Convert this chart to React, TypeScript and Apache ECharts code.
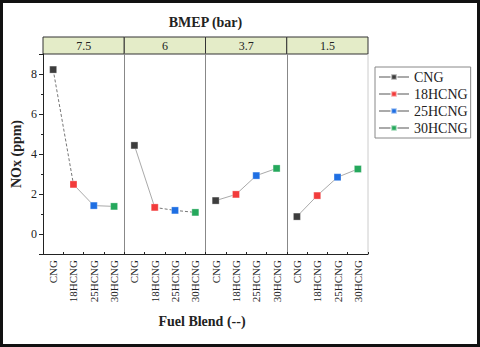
import React, { useEffect, useRef } from "react";
import * as echarts from "echarts";

const categories = ["CNG", "18HCNG", "25HCNG", "30HCNG"];
const bmepLabels = ["7.5", "6", "3.7", "1.5"];
const cng = [8.22, 4.43, 1.67, 0.87];
const h18 = [2.48, 1.33, 1.98, 1.92];
const h25 = [1.42, 1.18, 2.92, 2.84];
const h30 = [1.38, 1.08, 3.28, 3.25];
const fuelSeries = [cng, h18, h25, h30];
const fuelColors = ["#3d3d3d", "#f23b3b", "#1f6fe3", "#25a85c"];
const segDash = [
  ["dashed", "solid", "solid"],
  ["solid", "dashed", "dashed"],
  ["solid", "solid", "solid"],
  ["solid", "solid", "solid"],
];

const FONT = "Liberation Serif, Times New Roman, serif";

export default function App() {
  const ref = useRef<HTMLDivElement>(null);
  useEffect(() => {
    if (!ref.current) return;
    const chart = echarts.init(ref.current, undefined, { renderer: "svg" });
    const L = 43, W = 81.25, T = 54, H = 200;
    const grids: any[] = [];
    const xAxes: any[] = [];
    const minorX: any[] = [];
    const yAxes: any[] = [];
    const series: any[] = [];
    const graphics: any[] = [];
    for (let p = 0; p < 4; p++) {
      grids.push({ left: L + p * W, top: T, width: W, height: H });
      xAxes.push({
        type: "category",
        gridIndex: p,
        data: categories,
        boundaryGap: true,
        axisLine: { onZero: false, lineStyle: { color: "#222", width: 1 } },
        axisTick: { alignWithLabel: true, length: 4, lineStyle: { color: "#222" } },
        axisLabel: { rotate: 90, fontSize: 11, color: "#222", fontFamily: FONT, margin: 6, interval: 0 },
        splitLine: { show: false },
      });
      minorX.push({
        type: "category",
        gridIndex: p,
        position: "bottom",
        data: categories,
        boundaryGap: true,
        axisLine: { show: false, onZero: false },
        axisTick: { show: true, inside: true, length: 2, interval: 0, lineStyle: { color: "#222" } },
        axisLabel: { show: false },
        splitLine: { show: false },
      });
      yAxes.push({
        type: "value",
        gridIndex: p,
        min: -1,
        max: 9,
        splitNumber: 5,
        axisLine: { show: true, lineStyle: { color: p === 0 ? "#222" : "#888", width: 1 } },
        axisTick: { show: p === 0, length: 4, lineStyle: { color: "#222" } },
        minorTick: { show: p === 0, splitNumber: 2, length: 2, lineStyle: { color: "#222" } },
        axisLabel: {
          show: p === 0,
          fontSize: 12,
          color: "#222",
          fontFamily: FONT,
          margin: 6,
          formatter: (v: number) => (v < 0 || v > 8.5 ? "" : String(v)),
        },
        splitLine: { show: false },
        name: p === 0 ? "NOx (ppm)" : "",
        nameLocation: "middle",
        nameGap: 20,
        nameTextStyle: { fontSize: 14, fontWeight: "bold", color: "#222", fontFamily: FONT },
      });
      for (let k = 0; k < 3; k++) {
        series.push({
          type: "line",
          xAxisIndex: p,
          yAxisIndex: p,
          silent: true,
          showSymbol: false,
          symbol: "none",
          data: [
            [k, fuelSeries[k][p]],
            [k + 1, fuelSeries[k + 1][p]],
          ],
          lineStyle: {
            color: segDash[p][k] === "dashed" ? "#777" : "#aaa",
            width: 1,
            type: segDash[p][k] === "dashed" ? [3, 2] : "solid",
          },
        });
      }
      for (let f = 0; f < 4; f++) {
        series.push({
          type: "line",
          name: categories[f],
          xAxisIndex: p,
          yAxisIndex: p,
          symbol: "rect",
          symbolSize: 7,
          data: [[f, fuelSeries[f][p]]],
          itemStyle: { color: fuelColors[f], borderColor: "rgba(255,255,255,0.6)", borderWidth: 0.5 },
          lineStyle: { color: "#aaa", width: 1 },
          z: 5,
        });
      }
      graphics.push({
        type: "rect",
        shape: { x: L + p * W, y: 37, width: W, height: 17 },
        style: { fill: "#e4ecc8", stroke: "#333", lineWidth: 1 },
      });
      graphics.push({
        type: "text",
        x: L + p * W + W / 2,
        y: 45.5,
        style: {
          text: bmepLabels[p],
          fontSize: 12,
          fontFamily: FONT,
          fill: "#222",
          textAlign: "center",
          textVerticalAlign: "middle",
        },
      });
    }
    graphics.push({
      type: "line",
      shape: { x1: L + 4 * W, y1: T, x2: L + 4 * W, y2: T + H },
      style: { stroke: "#ccc", lineWidth: 1 },
    });
    graphics.push({
      type: "text",
      x: 205.5,
      y: 22,
      style: {
        text: "BMEP (bar)",
        fontSize: 14,
        fontWeight: "bold",
        fontFamily: FONT,
        fill: "#222",
        textAlign: "center",
        textVerticalAlign: "middle",
      },
    });
    graphics.push({
      type: "text",
      x: 202,
      y: 321,
      style: {
        text: "Fuel Blend (--)",
        fontSize: 14,
        fontWeight: "bold",
        fontFamily: FONT,
        fill: "#222",
        textAlign: "center",
        textVerticalAlign: "middle",
      },
    });
    graphics.push({
      type: "rect",
      shape: { x: 1.5, y: 1.5, width: 477, height: 344 },
      style: { fill: "none", stroke: "#111", lineWidth: 3 },
      z: 100,
    });
    chart.setOption({
      animation: false,
      backgroundColor: "#fff",
      grid: grids,
      xAxis: [...xAxes, ...minorX],
      yAxis: yAxes,
      series,
      legend: {
        data: categories,
        orient: "vertical",
        left: 375,
        top: 67,
        padding: [2, 3, 2, 3],
        itemGap: 1,
        itemWidth: 30,
        itemHeight: 7,
        borderColor: "#888",
        borderWidth: 1,
        textStyle: { fontSize: 14, fontFamily: FONT, color: "#222", lineHeight: 16 },
      },
      graphic: graphics,
    });
    return () => chart.dispose();
  }, []);
  return (
    <div
      ref={ref}
      style={{ position: "absolute", left: 0, top: 0, width: 480, height: 347 }}
    />
  );
}
